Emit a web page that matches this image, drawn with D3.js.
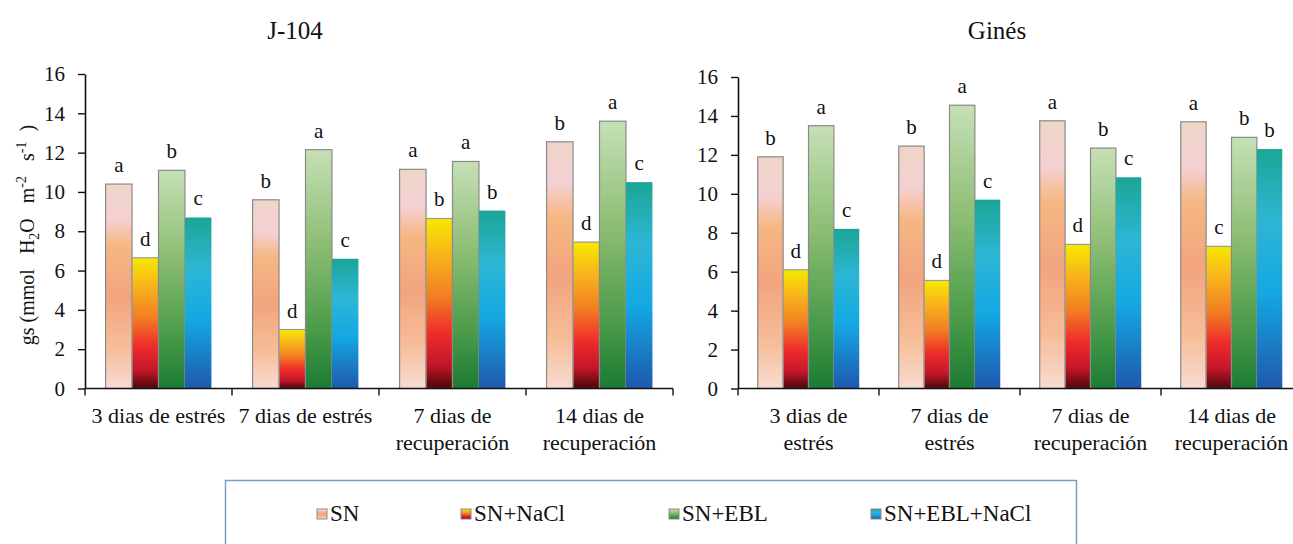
<!DOCTYPE html>
<html>
<head>
<meta charset="utf-8">
<script src="https://cdn.jsdelivr.net/npm/d3@7"></script>
<style>
  html, body { margin: 0; padding: 0; background: #ffffff; }
  svg text { font-family: 'Liberation Serif', 'Times New Roman', serif; }
</style>
</head>
<body>
<svg id="chart" width="1293" height="544"></svg>
<script>
// ---------- data ----------
const categories = ["3 dias de estrés", "7 dias de estrés", "7 dias de recuperación", "14 dias de recuperación"];
const leftLabelLines = [["3 dias de estrés"], ["7 dias de estrés"], ["7 dias de", "recuperación"], ["14 dias de", "recuperación"]];
const rightLabelLines = [["3 dias de", "estrés"], ["7 dias de", "estrés"], ["7 dias de", "recuperación"], ["14 dias de", "recuperación"]];
const series = ["SN", "SN+NaCl", "SN+EBL", "SN+EBL+NaCl"];
const yTicks = [0, 2, 4, 6, 8, 10, 12, 14, 16];

// J-104
const j104_SN = [10.4, 9.6, 11.15, 12.55];
const j104_NaCl = [6.65, 3.0, 8.65, 7.45];
const j104_EBL = [11.1, 12.15, 11.55, 13.6];
const j104_EBLNaCl = [8.7, 6.6, 9.05, 10.5];
const j104_letters_SN = ["a", "b", "a", "b"];
const j104_letters_NaCl = ["d", "d", "b", "d"];
const j104_letters_EBL = ["b", "a", "a", "a"];
const j104_letters_EBLNaCl = ["c", "c", "b", "c"];

// Ginés
const gines_SN = [11.9, 12.45, 13.75, 13.7];
const gines_NaCl = [6.1, 5.55, 7.4, 7.3];
const gines_EBL = [13.5, 14.55, 12.35, 12.9];
const gines_EBLNaCl = [8.2, 9.7, 10.85, 12.3];
const gines_letters_SN = ["b", "b", "a", "a"];
const gines_letters_NaCl = ["d", "d", "d", "c"];
const gines_letters_EBL = ["a", "a", "b", "b"];
const gines_letters_EBLNaCl = ["c", "c", "c", "b"];

// ---------- styles ----------
const FONT = "'Liberation Serif', 'Times New Roman', serif";
const gradientStops = {
  "SN": [[0, "#eed6c8"], [0.17, "#f5d0d3"], [0.3, "#f6b784"], [0.55, "#f2a47e"], [0.8, "#f6bd98"], [1, "#f8dbd2"]],
  "SN+NaCl": [[0, "#f6e900"], [0.22, "#f8b31c"], [0.45, "#f28022"], [0.68, "#ee2b2a"], [0.86, "#c4162a"], [1, "#4a0808"]],
  "SN+EBL": [[0, "#c6e0b6"], [0.4, "#8cbd73"], [0.75, "#4b9b4a"], [1, "#1b7b33"]],
  "SN+EBL+NaCl": [[0, "#1ca596"], [0.3, "#2db6d4"], [0.6, "#14a8e2"], [1, "#1f58ae"]]
};
const strokeCol = { "SN": "#8a8a8a", "SN+NaCl": "#9a9a9a", "SN+EBL": "#8a8a8a", "SN+EBL+NaCl": "none" };

const svg = d3.select("#chart").attr("font-family", FONT);
const defs = svg.append("defs");
series.forEach((s, i) => {
  const g = defs.append("linearGradient").attr("id", "grad" + i)
    .attr("x1", 0).attr("y1", 0).attr("x2", 0).attr("y2", 1);
  gradientStops[s].forEach(st => g.append("stop").attr("offset", st[0]).attr("stop-color", st[1]));
});

function panel(opt) {
  const g = svg.append("g");
  const x = d3.scaleBand().domain(categories).range([opt.x0, opt.x1]).paddingInner(0.28).paddingOuter(0.14);
  const xs = d3.scaleBand().domain(series).range([0, x.bandwidth()]);
  const y = d3.scaleLinear().domain([0, 16]).range([388.5, opt.yTop]);
  const step = x.step();

  // bars
  series.forEach((s, si) => {
    const vals = opt.values[si];
    const lets = opt.letters[si];
    g.selectAll(null).data(categories).enter().append("rect")
      .attr("x", (c) => x(c) + xs(s))
      .attr("y", (c, i) => y(vals[i]))
      .attr("width", xs.bandwidth())
      .attr("height", (c, i) => y(0) - y(vals[i]))
      .attr("fill", "url(#grad" + si + ")")
      .attr("stroke", strokeCol[s])
      .attr("stroke-width", 1.2);
    g.selectAll(null).data(categories).enter().append("text")
      .attr("x", (c) => x(c) + xs(s) + xs.bandwidth() / 2)
      .attr("y", (c, i) => y(vals[i]) - 12)
      .attr("text-anchor", "middle")
      .attr("font-size", 21)
      .attr("font-family", FONT)
      .attr("fill", "#111")
      .text((c, i) => lets[i]);
  });

  // y axis
  const yAxis = d3.axisLeft(y).tickValues(yTicks).tickSize(7).tickSizeOuter(0).tickPadding(13).tickFormat(d3.format("d"));
  const ya = g.append("g").attr("transform", `translate(${opt.x0},0)`).call(yAxis);
  ya.attr("font-family", FONT).attr("font-size", 21);
  ya.select(".domain").attr("stroke", "#111").attr("stroke-width", 1.6);
  ya.selectAll(".tick line").attr("stroke", "#111").attr("stroke-width", 1.4);
  ya.selectAll(".tick text").attr("font-size", 21).attr("fill", "#111").attr("font-family", FONT);

  // x axis line + boundary ticks
  const xa = g.append("g");
  xa.append("line").attr("x1", opt.x0).attr("x2", opt.x0 + 4 * step)
    .attr("y1", y(0)).attr("y2", y(0)).attr("stroke", "#111").attr("stroke-width", 1.6);
  xa.selectAll(null).data(d3.range(5)).enter().append("line")
    .attr("x1", (i) => opt.x0 + i * step).attr("x2", (i) => opt.x0 + i * step)
    .attr("y1", y(0)).attr("y2", y(0) + 7)
    .attr("stroke", "#111").attr("stroke-width", 1.4);
  // category labels
  categories.forEach((c, i) => {
    const t = xa.append("text").attr("text-anchor", "middle").attr("font-size", 22)
      .attr("font-family", FONT).attr("fill", "#111");
    opt.labelLines[i].forEach((ln, li) => {
      t.append("tspan").attr("x", x(c) + x.bandwidth() / 2).attr("y", 423 + li * 27).text(ln);
    });
  });

  // title
  g.append("text").attr("x", opt.titleX).attr("y", 39).attr("text-anchor", "middle")
    .attr("font-size", 25).attr("font-family", FONT).attr("fill", "#111").text(opt.title);
}

panel({
  x0: 85, x1: 673, yTop: 74, title: "J-104", titleX: 295,
  values: [j104_SN, j104_NaCl, j104_EBL, j104_EBLNaCl],
  letters: [j104_letters_SN, j104_letters_NaCl, j104_letters_EBL, j104_letters_EBLNaCl],
  labelLines: leftLabelLines
});
panel({
  x0: 738, x1: 1302, yTop: 77, title: "Ginés", titleX: 997,
  values: [gines_SN, gines_NaCl, gines_EBL, gines_EBLNaCl],
  letters: [gines_letters_SN, gines_letters_NaCl, gines_letters_EBL, gines_letters_EBLNaCl],
  labelLines: rightLabelLines
});

// y axis title
const yt = svg.append("text")
  .attr("transform", "translate(27,235) rotate(-90)")
  .attr("text-anchor", "middle").attr("dy", "0.35em")
  .attr("font-size", 20).attr("font-family", FONT).attr("fill", "#111")
  .style("white-space", "pre");
yt.append("tspan").text("gs (mmol   H");
yt.append("tspan").attr("font-size", 14).attr("dy", 5).text("2");
yt.append("tspan").attr("dy", -5).text("O   m");
yt.append("tspan").attr("font-size", 14).attr("dy", -8).text("-2");
yt.append("tspan").attr("dy", 8).text("   s");
yt.append("tspan").attr("font-size", 14).attr("dy", -8).text("-1");
yt.append("tspan").attr("dy", 8).text("  )");

// legend
const lg = svg.append("g");
lg.append("rect").attr("x", 225.5).attr("y", 480.5).attr("width", 851).attr("height", 80)
  .attr("fill", "none").attr("stroke", "#7b9bc9").attr("stroke-width", 1.5);
const legendX = [317, 461, 669, 871];
series.forEach((s, i) => {
  lg.append("rect").attr("x", legendX[i]).attr("y", 509).attr("width", 10).attr("height", 10)
    .attr("fill", "url(#grad" + i + ")").attr("stroke", "#8a8a8a").attr("stroke-width", 1);
  lg.append("text").attr("x", legendX[i] + 13).attr("y", 521).attr("font-size", 23)
    .attr("font-family", FONT).attr("fill", "#111").text(s);
});
</script>
</body>
</html>
